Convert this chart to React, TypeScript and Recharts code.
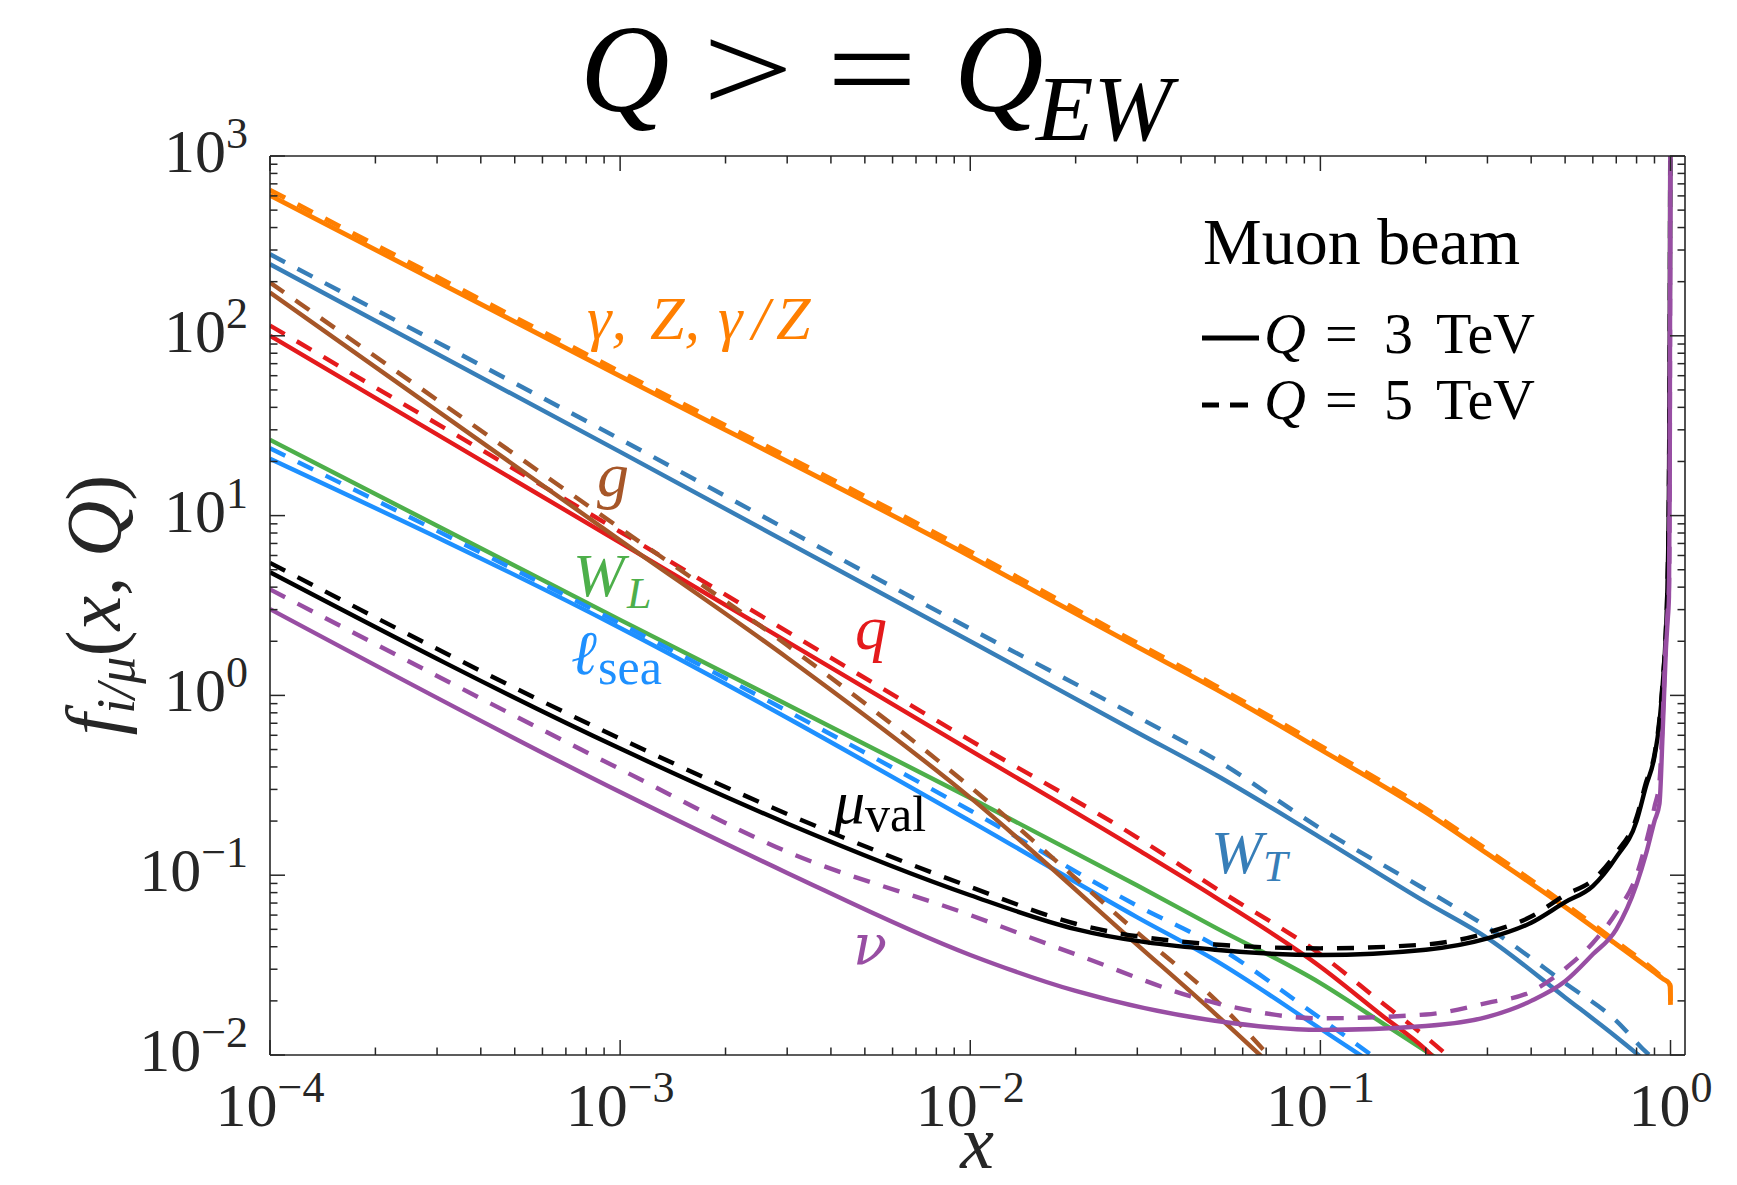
import React from 'react';
import { LineChart, Line, XAxis, YAxis } from 'recharts';

const FONT = 'Liberation Serif';
const GREEK_FONT = 'DejaVu Serif';
const AXIS = '#262626';
const SERIF = { fontFamily: FONT };
const SERIF_IT = { fontFamily: FONT, fontStyle: 'italic' as const };

const COLORS = {
  photon: '#FF7F00',
  wt: '#377EB8',
  gluon: '#A65628',
  quark: '#E41A1C',
  wl: '#4DAF4A',
  lsea: '#1E90FF',
  muval: '#000000',
  nu: '#984EA3',
};

// gamma, Z, gamma/Z
const xPhoton = [1e-4, 1e-3, 1e-2, 0.03, 0.05, 0.1, 0.2, 0.3, 0.5, 0.7, 0.9, 0.95, 0.99, 0.998, 1.0];
const photon3 = [604, 59.7, 5.94, 1.86, 1.09, 0.5, 0.224, 0.1315, 0.0665, 0.0413, 0.0288, 0.0266, 0.0251, 0.024, 0.019];
const photon5 = [646, 63.1, 6.31, 1.95, 1.135, 0.525, 0.234, 0.138, 0.069, 0.0427, 0.0295, 0.0269, 0.0253, 0.0242, 0.0195];

// W_T
const xWT3 = [1e-4, 1e-3, 1e-2, 0.03, 0.05, 0.1, 0.2, 0.3, 0.5, 0.7, 0.8, 0.87];
const wt3 = [250, 22.6, 2.0, 0.622, 0.363, 0.162, 0.0708, 0.0447, 0.0209, 0.0126, 0.0102, 0.0089];
const xWT5 = [1e-4, 1e-3, 1e-2, 0.03, 0.05, 0.1, 0.2, 0.3, 0.5, 0.7, 0.86, 0.91];
const wt5 = [284, 26.6, 2.35, 0.76, 0.442, 0.182, 0.083, 0.0513, 0.0251, 0.0155, 0.0102, 0.0093];

// gluon
const xG3 = [1e-4, 1e-3, 3e-3, 1e-2, 0.03, 0.05, 0.07];
const g3 = [174, 7.3, 1.62, 0.27, 0.041, 0.017, 0.0093];
const xG5 = [1e-4, 1e-3, 3e-3, 1e-2, 0.03, 0.05, 0.075];
const g5 = [198, 8.5, 1.9, 0.31, 0.048, 0.0204, 0.0089];

// quarks
const xQ3 = [1e-4, 1e-3, 1e-2, 0.03, 0.05, 0.1, 0.15, 0.2, 0.22];
const q3 = [100, 7.08, 0.495, 0.139, 0.0755, 0.031, 0.0166, 0.0107, 0.0089];
const xQ5 = [1e-4, 1e-3, 1e-2, 0.03, 0.05, 0.1, 0.15, 0.2, 0.24];
const q5 = [114, 8.13, 0.562, 0.162, 0.0851, 0.0363, 0.0195, 0.0126, 0.0093];

// W_L
const xWL = [1e-4, 1e-3, 1e-2, 0.03, 0.05, 0.1, 0.15, 0.2, 0.215];
const wl3 = [26.4, 2.63, 0.269, 0.0877, 0.0513, 0.0251, 0.0151, 0.0105, 0.0096];

// sea leptons
const xL3 = [1e-4, 1e-3, 1e-2, 0.03, 0.05, 0.1, 0.132];
const l3 = [20.7, 2.37, 0.2, 0.0583, 0.0337, 0.014, 0.0098];
const xL5 = [1e-4, 1e-3, 1e-2, 0.03, 0.05, 0.1, 0.145];
const l5 = [23.7, 2.51, 0.229, 0.0676, 0.0407, 0.016, 0.0095];

// valence muon
const xMu = [1e-4, 1e-3, 3e-3, 1e-2, 0.02, 0.05, 0.1, 0.2, 0.3, 0.4, 0.5, 0.6, 0.7, 0.8, 0.85, 0.9, 0.93, 0.95, 0.97, 0.98, 0.99, 0.995, 0.999];
const mu3 = [4.84, 0.506, 0.194, 0.0774, 0.0501, 0.0385, 0.036, 0.0385, 0.0445, 0.0544, 0.0708, 0.087, 0.126, 0.2, 0.31, 0.457, 0.708, 1.15, 2.24, 3.98, 15.8, 100, 2000];
const mu5 = [5.46, 0.575, 0.219, 0.0861, 0.0537, 0.0412, 0.0392, 0.0412, 0.0479, 0.0589, 0.0776, 0.094, 0.133, 0.21, 0.325, 0.47, 0.74, 1.2, 2.3, 4.1, 16, 100, 2000];

// neutrinos
const xNu = [1e-4, 1e-3, 3e-3, 1e-2, 0.02, 0.05, 0.1, 0.2, 0.3, 0.4, 0.5, 0.6, 0.7, 0.8, 0.85, 0.9, 0.93, 0.95, 0.97, 0.98, 0.99, 0.995, 0.998, 0.9995];
const nu3 = [3.02, 0.29, 0.103, 0.036, 0.0227, 0.0155, 0.0138, 0.0145, 0.0163, 0.02, 0.0257, 0.0363, 0.05, 0.089, 0.13, 0.2, 0.25, 0.63, 1.78, 2.5, 3.55, 15.8, 316, 3162];
const nu5 = [3.89, 0.389, 0.135, 0.06, 0.0363, 0.0195, 0.016, 0.0168, 0.0195, 0.0225, 0.0302, 0.042, 0.062, 0.1, 0.15, 0.24, 0.33, 0.75, 2.0, 2.8, 4.0, 17.8, 355, 3162];

// axes
const X_DOMAIN: [number, number] = [1e-4, 1.1];
const Y_DOMAIN: [number, number] = [1e-2, 1e3];
const X_MAJOR = [1e-4, 1e-3, 1e-2, 1e-1, 1];
const Y_MAJOR = [1e-2, 1e-1, 1, 10, 100, 1000];

const withMinor = (majors: number[]) => {
  const out: number[] = [];
  majors.forEach((m, i) => {
    out.push(m);
    if (i < majors.length - 1) for (let k = 2; k <= 9; k++) out.push(k * m);
  });
  return out;
};
const X_TICKS = withMinor(X_MAJOR);
const Y_TICKS = withMinor(Y_MAJOR);

const isMajor = (v: number) => Math.abs(Math.log10(v) - Math.round(Math.log10(v))) < 1e-6;

type Pt = { x: number; y: number };
const pairs = (xs: number[], ys: number[]): Pt[] => xs.map((x, i) => ({ x, y: ys[i] }));

const DASH = '17 14';

const SERIES = [
  { id: 'photon3', data: pairs(xPhoton, photon3), color: COLORS.photon, dashed: false, w: 4.8 },
  { id: 'photon5', data: pairs(xPhoton, photon5), color: COLORS.photon, dashed: true, w: 4.8 },
  { id: 'wt3', data: pairs(xWT3, wt3), color: COLORS.wt, dashed: false, w: 4.4 },
  { id: 'wt5', data: pairs(xWT5, wt5), color: COLORS.wt, dashed: true, w: 4.4 },
  { id: 'wl3', data: pairs(xWL, wl3), color: COLORS.wl, dashed: false, w: 4.4 },
  { id: 'l3', data: pairs(xL3, l3), color: COLORS.lsea, dashed: false, w: 4.4 },
  { id: 'l5', data: pairs(xL5, l5), color: COLORS.lsea, dashed: true, w: 4.4 },
  { id: 'q3', data: pairs(xQ3, q3), color: COLORS.quark, dashed: false, w: 4.4 },
  { id: 'q5', data: pairs(xQ5, q5), color: COLORS.quark, dashed: true, w: 4.4 },
  { id: 'g3', data: pairs(xG3, g3), color: COLORS.gluon, dashed: false, w: 4.4 },
  { id: 'g5', data: pairs(xG5, g5), color: COLORS.gluon, dashed: true, w: 4.4 },
  { id: 'mu3', data: pairs(xMu, mu3), color: COLORS.muval, dashed: false, w: 4.4 },
  { id: 'mu5', data: pairs(xMu, mu5), color: COLORS.muval, dashed: true, w: 4.4 },
  { id: 'nu3', data: pairs(xNu, nu3), color: COLORS.nu, dashed: false, w: 4.4 },
  { id: 'nu5', data: pairs(xNu, nu5), color: COLORS.nu, dashed: true, w: 4.4 },
];

const expText = (v: number) => {
  const e = Math.round(Math.log10(v));
  return e < 0 ? `\u2212${-e}` : `${e}`;
};

const PowerLabel = ({ x, y, v, anchor }: { x: number; y: number; v: number; anchor: 'middle' | 'end' }) => (
  <text x={x} y={y} textAnchor={anchor} style={SERIF} fill={AXIS}>
    <tspan fontSize={62}>10</tspan>
    <tspan fontSize={44} dy={-24}>{expText(v)}</tspan>
  </text>
);

const BottomTick = (props: any) => {
  const { x, y, payload } = props;
  const major = isMajor(payload.value);
  return (
    <g>
      <line x1={x} y1={y} x2={x} y2={y - (major ? 15 : 7.5)} stroke={AXIS} strokeWidth={1.5} />
      {major && <PowerLabel x={x} y={y + 71} v={payload.value} anchor="middle" />}
    </g>
  );
};

const TopTick = (props: any) => {
  const { x, y, payload } = props;
  const major = isMajor(payload.value);
  return <line x1={x} y1={y} x2={x} y2={y + (major ? 15 : 7.5)} stroke={AXIS} strokeWidth={1.5} />;
};

const LeftTick = (props: any) => {
  const { x, y, payload } = props;
  const major = isMajor(payload.value);
  return (
    <g>
      <line x1={x} y1={y} x2={x + (major ? 15 : 7.5)} y2={y} stroke={AXIS} strokeWidth={1.5} />
      {major && <PowerLabel x={x - 22} y={y + 16} v={payload.value} anchor="end" />}
    </g>
  );
};

const RightTick = (props: any) => {
  const { x, y, payload } = props;
  const major = isMajor(payload.value);
  return <line x1={x} y1={y} x2={x - (major ? 15 : 7.5)} y2={y} stroke={AXIS} strokeWidth={1.5} />;
};

const axisLine = { stroke: AXIS, strokeWidth: 1.6 };

const Annotations = () => (
  <svg
    width={1737}
    height={1185}
    style={{ position: 'absolute', left: 0, top: 0, pointerEvents: 'none', fontFamily: FONT }}
  >
    {/* title: Q >= Q_EW */}
    <text x={580} y={111} fontSize={124} style={SERIF_IT} fill="#000">Q</text>
    <text x={0} y={111} fontSize={124} textAnchor="middle" style={SERIF} fill="#000" transform="translate(748,0) scale(1.3,1)">&gt;</text>
    <text x={0} y={111} fontSize={124} textAnchor="middle" style={SERIF} fill="#000" transform="translate(872,0) scale(1.3,1)">=</text>
    <text x={954} y={111} fontSize={124} style={SERIF_IT} fill="#000">Q</text>
    <text x={1036} y={140} fontSize={94} style={SERIF_IT} fill="#000">EW</text>

    {/* axis titles */}
    <text transform="translate(120,605) rotate(-90)" textAnchor="middle" fontSize={78} style={SERIF} fill={AXIS}>
      <tspan style={SERIF_IT}>f</tspan>
      <tspan style={SERIF_IT} fontSize={54} dy={14}>i/μ</tspan>
      <tspan dy={-14}>(</tspan>
      <tspan style={SERIF_IT}>x</tspan>
      <tspan>, </tspan>
      <tspan style={SERIF_IT}>Q</tspan>
      <tspan>)</tspan>
    </text>
    <text x={977} y={1168} textAnchor="middle" fontSize={76} style={SERIF_IT} fill={AXIS}>x</text>

    {/* legend */}
    <text x={1203} y={264} fontSize={66} style={SERIF} fill="#000">Muon beam</text>
    <line x1={1202} y1={338} x2={1259} y2={338} stroke="#000" strokeWidth={5} />
    <text y={353} fontSize={58} style={SERIF} fill="#000">
      <tspan x={1264} style={SERIF_IT}>Q</tspan>
      <tspan x={1325}>=</tspan>
      <tspan x={1384}>3</tspan>
      <tspan x={1436}>TeV</tspan>
    </text>
    <line x1={1202} y1={405} x2={1219} y2={405} stroke="#000" strokeWidth={5} />
    <line x1={1230} y1={405} x2={1248} y2={405} stroke="#000" strokeWidth={5} />
    <text y={419} fontSize={58} style={SERIF} fill="#000">
      <tspan x={1264} style={SERIF_IT}>Q</tspan>
      <tspan x={1325}>=</tspan>
      <tspan x={1384}>5</tspan>
      <tspan x={1436}>TeV</tspan>
    </text>

    {/* curve labels */}
    <text y={339} fontSize={62} style={SERIF_IT} fill={COLORS.photon}>
      <tspan x={587}>γ,</tspan>
      <tspan x={650}>Z,</tspan>
      <tspan x={718}>γ</tspan>
      <tspan x={752} style={SERIF}>/</tspan>
      <tspan x={776}>Z</tspan>
    </text>
    <text x={597} y={496} fontSize={64} style={SERIF_IT} fill={COLORS.gluon}>g</text>
    <text y={596} fontSize={62} style={SERIF_IT} fill={COLORS.wl}>
      <tspan x={573}>W</tspan>
      <tspan x={627} fontSize={44} dy={12}>L</tspan>
    </text>
    <text x={855} y={649} fontSize={64} style={SERIF_IT} fill={COLORS.quark}>q</text>
    <text y={674} fontSize={62} style={SERIF} fill={COLORS.lsea}>
      <tspan x={571} style={SERIF_IT}>ℓ</tspan>
      <tspan x={598} fontSize={50} dy={10}>sea</tspan>
    </text>
    <text y={823} fontSize={62} style={SERIF} fill={COLORS.muval}>
      <tspan x={834} style={SERIF_IT}>μ</tspan>
      <tspan x={865} fontSize={50} dy={8}>val</tspan>
    </text>
    <text y={873} fontSize={62} style={SERIF_IT} fill={COLORS.wt}>
      <tspan x={1211}>W</tspan>
      <tspan x={1263} fontSize={44} dy={8}>T</tspan>
    </text>
    <text x={853} y={964} fontSize={56} style={{ fontFamily: GREEK_FONT, fontStyle: 'italic' }} fill={COLORS.nu}>ν</text>
  </svg>
);

export default function App() {
  return (
    <div style={{ position: 'absolute', left: 0, top: 0, width: 1737, height: 1185, background: '#fff', fontFamily: FONT }}>
      <LineChart width={1737} height={1185} margin={{ top: 154, right: 50, bottom: 0, left: 0 }}>
        <XAxis
          dataKey="x"
          type="number"
          scale="log"
          domain={X_DOMAIN}
          allowDataOverflow
          ticks={X_TICKS}
          interval={0}
          tickLine={false}
          tickSize={0}
          tickMargin={0}
          tick={BottomTick}
          axisLine={axisLine}
          height={130}
        />
        <XAxis
          xAxisId="top"
          orientation="top"
          dataKey="x"
          type="number"
          scale="log"
          domain={X_DOMAIN}
          allowDataOverflow
          ticks={X_TICKS}
          interval={0}
          tickLine={false}
          tickSize={0}
          tickMargin={0}
          tick={TopTick}
          axisLine={axisLine}
          height={2}
        />
        <YAxis
          type="number"
          scale="log"
          domain={Y_DOMAIN}
          allowDataOverflow
          ticks={Y_TICKS}
          interval={0}
          tickLine={false}
          tickSize={0}
          tickMargin={0}
          tick={LeftTick}
          axisLine={axisLine}
          width={270}
        />
        <YAxis
          yAxisId="right"
          orientation="right"
          type="number"
          scale="log"
          domain={Y_DOMAIN}
          allowDataOverflow
          ticks={Y_TICKS}
          interval={0}
          tickLine={false}
          tickSize={0}
          tickMargin={0}
          tick={RightTick}
          axisLine={axisLine}
          width={2}
        />
        {SERIES.map((s) => (
          <Line
            key={s.id}
            data={s.data}
            dataKey="y"
            type="monotone"
            stroke={s.color}
            strokeWidth={s.w}
            strokeDasharray={s.dashed ? DASH : undefined}
            dot={false}
            activeDot={false}
            isAnimationActive={false}
          />
        ))}
      </LineChart>
      <Annotations />
    </div>
  );
}
